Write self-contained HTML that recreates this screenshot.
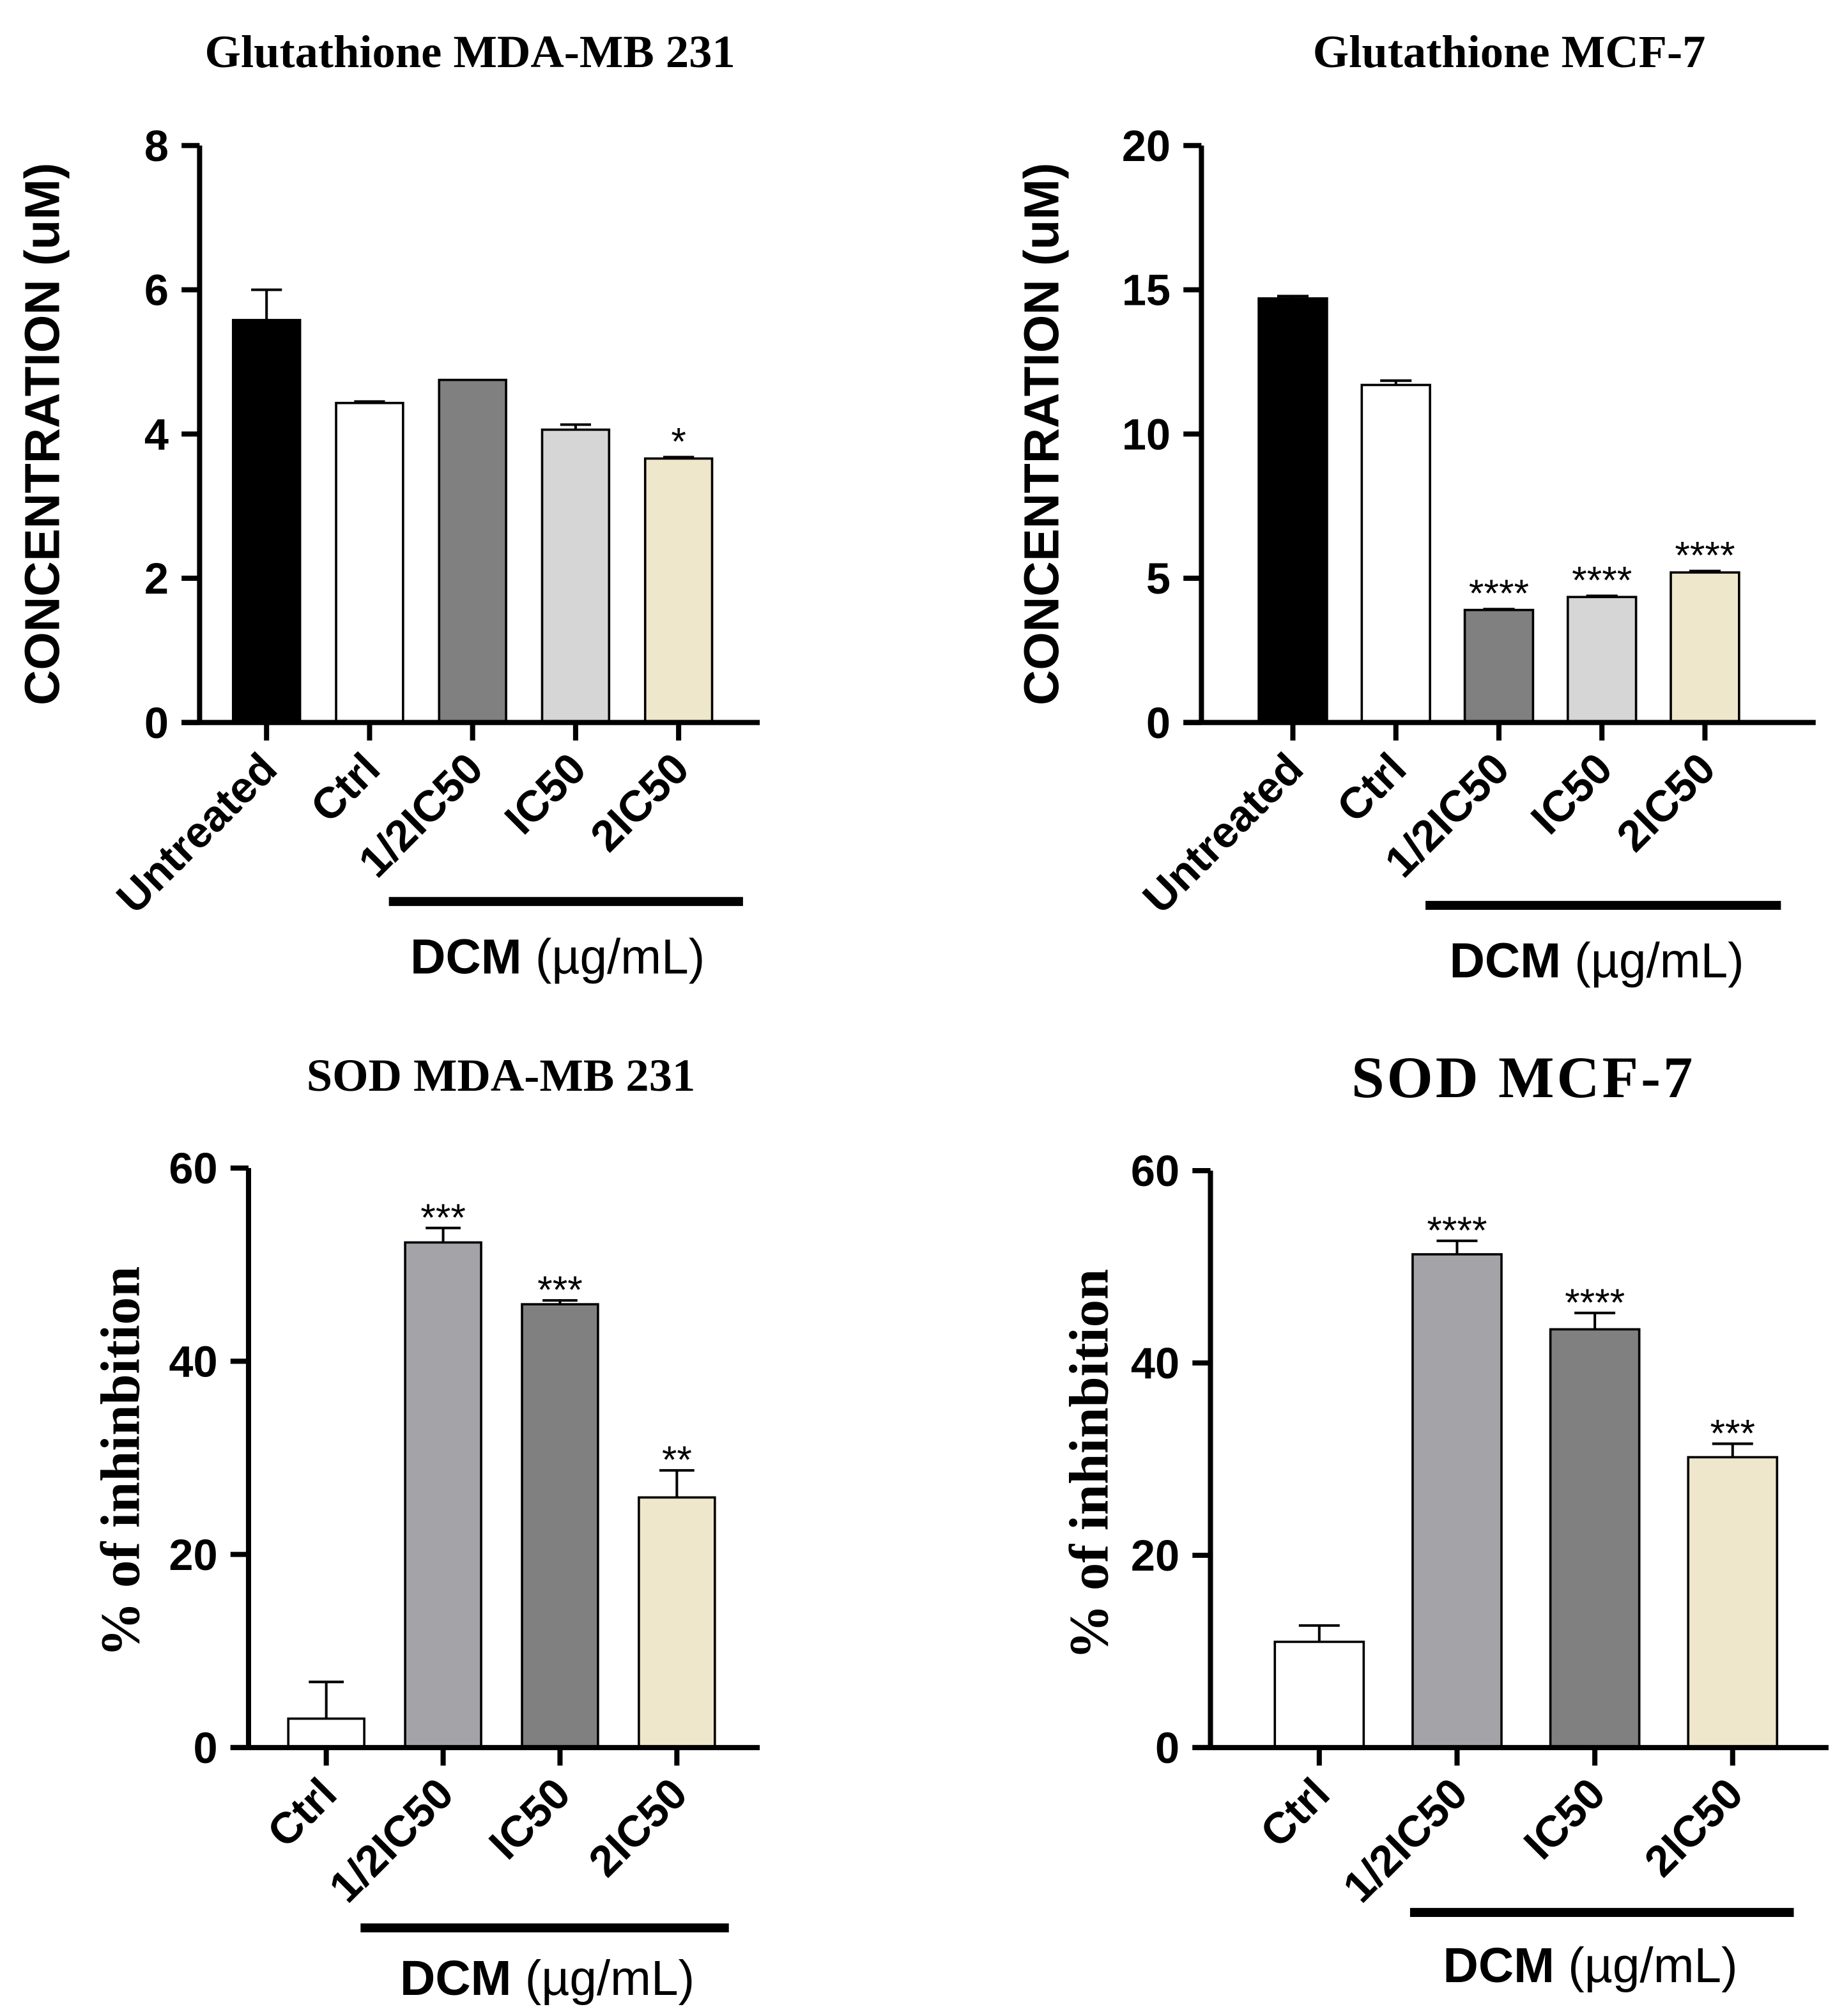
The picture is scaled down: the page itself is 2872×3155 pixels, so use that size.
<!DOCTYPE html>
<html><head><meta charset="utf-8"><style>
html,body{margin:0;padding:0;background:#fff;}
svg{display:block;}
.tick{font-family:"Liberation Sans",Arial,sans-serif;font-weight:bold;font-size:34px;}
.cat{font-family:"Liberation Sans",Arial,sans-serif;font-weight:bold;font-size:34px;}
.ttl{font-family:"Liberation Serif","Times New Roman",serif;font-weight:bold;font-size:36px;}
.ylab{font-family:"Liberation Sans",Arial,sans-serif;font-weight:bold;font-size:38px;}
.ylabs{font-family:"Liberation Serif",serif;font-weight:bold;font-size:43px;}
.dcm{font-family:"Liberation Sans",Arial,sans-serif;font-size:38px;}
.star{font-family:"Liberation Sans",Arial,sans-serif;font-size:30px;}
</style></head><body>
<svg id="fig" xmlns="http://www.w3.org/2000/svg" width="2872" height="3155" viewBox="0 0 1425 1565.4"></svg>
<script>
// Panel A: Glutathione MDA-MB 231
const gA_categories = ["Untreated","Ctrl","1/2IC50","IC50","2IC50"];
const gA_values = [5.58, 4.43, 4.75, 4.06, 3.66];
const gA_errors = [0.42, 0.02, 0.0, 0.07, 0.02];
const gA_stars = ["", "", "", "", "*"];
const gA_ticks = [0, 2, 4, 6, 8];
// Panel B: Glutathione MCF-7
const gB_categories = ["Untreated","Ctrl","1/2IC50","IC50","2IC50"];
const gB_values = [14.7, 11.7, 3.9, 4.35, 5.2];
const gB_errors = [0.08, 0.15, 0.03, 0.04, 0.05];
const gB_stars = ["", "", "****", "****", "****"];
const gB_ticks = [0, 5, 10, 15, 20];
// Panel C: SOD MDA-MB 231
const sC_categories = ["Ctrl","1/2IC50","IC50","2IC50"];
const sC_values = [3.0, 52.3, 45.9, 25.9];
const sC_errors = [3.8, 1.5, 0.4, 2.8];
const sC_stars = ["", "***", "***", "**"];
const sC_ticks = [0, 20, 40, 60];
// Panel D: SOD MCF-7
const sD_categories = ["Ctrl","1/2IC50","IC50","2IC50"];
const sD_values = [11.0, 51.3, 43.5, 30.2];
const sD_errors = [1.7, 1.4, 1.7, 1.4];
const sD_stars = ["", "****", "****", "***"];
const sD_ticks = [0, 20, 40, 60];

const NS = "http://www.w3.org/2000/svg";
const svg = document.getElementById("fig");
function mk(tag, attrs, parent, text) {
  const e = document.createElementNS(NS, tag);
  for (const k in attrs) e.setAttribute(k, attrs[k]);
  if (text !== undefined) e.textContent = text;
  (parent || svg).appendChild(e);
  return e;
}
function panel(p) {
  const g = mk("g", {});
  
  
  const yMax = p.ticks[p.ticks.length - 1];
  const ys = v => p.y0 - (v / yMax) * (p.y0 - p.yTop);
  const n = p.cats.length;
  const step = (p.xEnd - p.xStart) / n;
  const cx = i => p.xStart + step * (i + 0.5);
  const t = mk("text", {x: p.titleX, y: p.titleY, "text-anchor": "middle", class: "ttl", style: p.titleStyle || ""}, g, p.title);
  
  
  p.vals.forEach((v, i) => {
    const x = cx(i) - p.barW / 2;
    const top = ys(v + p.errs[i]);
    if (p.errs[i] > 0) {
      const eb = mk("path", {d: `M${cx(i)} ${ys(v)} V${top} M${cx(i) - p.barW * 0.23} ${top} H${cx(i) + p.barW * 0.23}`, stroke: "#000", "stroke-width": 2, fill: "none"}, g);
      
      
    }
    const r = mk("rect", {x: x, y: ys(v), width: p.barW, height: p.y0 - ys(v), fill: p.colors[i], stroke: "#000", "stroke-width": 1.8}, g);
    
    
    if (p.stars[i]) {
      const s = mk("text", {x: cx(i), y: top + p.starOff, "text-anchor": "middle", class: "star"}, g, p.stars[i]);
      
      
    }
    const tk = mk("line", {x1: cx(i), x2: cx(i), y1: p.y0, y2: p.y0 + 14, stroke: "#000", "stroke-width": 4}, g);
    
    
    const lb = mk("text", {x: cx(i) + 10, y: p.y0 + 38, "text-anchor": "end", class: "cat", transform: `rotate(-45 ${cx(i) + 10} ${p.y0 + 38})`}, g, p.cats[i]);
    
    
  });
  const ax = mk("path", {d: `M${p.axX} ${p.yTop} V${p.y0} M${p.axX - 14} ${p.y0} H${p.axEnd}`, stroke: "#000", "stroke-width": 4, fill: "none"}, g);
  
  
  p.ticks.forEach(tv => {
    const l = mk("line", {x1: p.axX - 14, x2: p.axX, y1: ys(tv), y2: ys(tv), stroke: "#000", "stroke-width": 4}, g);
    
    
    const tl = mk("text", {x: p.axX - 24, y: ys(tv) + 12, "text-anchor": "end", class: "tick"}, g, String(tv));
    
    
  });
  const yl = mk("text", {x: p.ylX, y: p.ylY, "text-anchor": "middle", class: p.ylClass, transform: `rotate(-90 ${p.ylX} ${p.ylY})`}, g, p.ylab);
  
  
  const dl = mk("line", {x1: p.dcm[0], x2: p.dcm[1], y1: p.dcm[2], y2: p.dcm[2], stroke: "#000", "stroke-width": 7}, g);
  
  
  const dt = mk("text", {x: p.dcm[3], y: p.dcm[4], "text-anchor": "middle", class: "dcm"}, g);
  
  
  mk("tspan", {"font-weight": "bold"}, dt, "DCM");
  mk("tspan", {}, dt, " (µg/mL)");
}
panel({name: "glutathione-mda-panel", title: "Glutathione MDA-MB 231", titleX: 365, titleY: 52,
  cats: gA_categories, vals: gA_values, errs: gA_errors, stars: gA_stars, ticks: gA_ticks, starOff: -2,
  colors: ["#000000", "#ffffff", "#808080", "#d6d6d6", "#efe7cb"],
  axX: 155, yTop: 113, y0: 561, axEnd: 590, xStart: 167, xEnd: 567, barW: 52,
  ylab: "CONCENTRATION (uM)", ylClass: "ylab", ylX: 46, ylY: 337, dcm: [302, 577, 700, 433, 756]});
panel({name: "glutathione-mcf7-panel", title: "Glutathione MCF-7", titleX: 1172, titleY: 52,
  cats: gB_categories, vals: gB_values, errs: gB_errors, stars: gB_stars, ticks: gB_ticks, starOff: -2,
  colors: ["#000000", "#ffffff", "#808080", "#d6d6d6", "#efe7cb"],
  axX: 933, yTop: 113, y0: 561, axEnd: 1410, xStart: 964, xEnd: 1364, barW: 53,
  ylab: "CONCENTRATION (uM)", ylClass: "ylab", ylX: 822, ylY: 337, dcm: [1107, 1383, 703, 1240, 759]});
panel({name: "sod-mda-panel", title: "SOD MDA-MB 231", titleX: 389, titleY: 847,
  cats: sC_categories, vals: sC_values, errs: sC_errors, stars: sC_stars, ticks: sC_ticks, starOff: 2,
  colors: ["#ffffff", "#a4a4a8", "#808080", "#efe7cb"],
  axX: 193, yTop: 907, y0: 1357, axEnd: 590, xStart: 208, xEnd: 571, barW: 59,
  ylab: "% of inhinbition", ylClass: "ylabs", ylX: 108, ylY: 1135, dcm: [280, 566, 1497, 425, 1549]});
panel({name: "sod-mcf7-panel", title: "SOD MCF-7", titleX: 1183, titleY: 852, titleStyle: "font-size:46px;letter-spacing:2px",
  cats: sD_categories, vals: sD_values, errs: sD_errors, stars: sD_stars, ticks: sD_ticks, starOff: 2,
  colors: ["#ffffff", "#a4a4a8", "#808080", "#efe7cb"],
  axX: 940, yTop: 909, y0: 1357, axEnd: 1420, xStart: 971, xEnd: 1399, barW: 69,
  ylab: "% of inhinbition", ylClass: "ylabs", ylX: 860, ylY: 1137, dcm: [1095, 1393, 1485, 1235, 1539]});
</script>
</body></html>
